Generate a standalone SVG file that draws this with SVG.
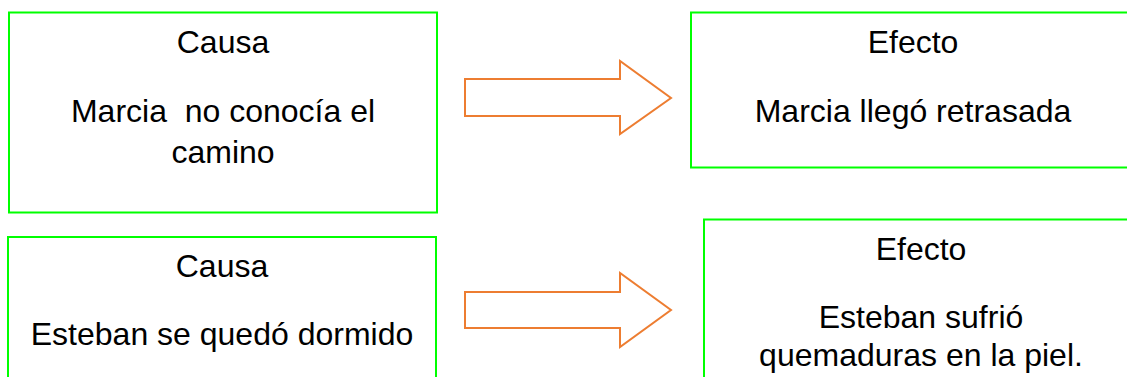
<svg xmlns="http://www.w3.org/2000/svg" width="1127" height="377" viewBox="0 0 1127 377" xml:space="preserve">
<style>
.box{fill:#ffffff;stroke:#00ff00;stroke-width:2}
.arrow{fill:#ffffff;stroke:#ed7d31;stroke-width:2;stroke-linejoin:miter}
text{font-family:"Liberation Sans",Arial,sans-serif;font-size:32px;fill:#000000;text-anchor:middle;white-space:pre}
</style>
<rect width="1127" height="377" fill="#ffffff"/>
<g id="causa1">
<rect class="box" x="9" y="12.5" width="428" height="200"/>
<text x="223" y="53">Causa</text>
<text x="223" y="122">Marcia  no conocía el</text>
<text x="223" y="163">camino</text>
</g>
<g id="efecto1">
<rect class="box" x="691" y="12.5" width="444" height="155"/>
<text x="913" y="53">Efecto</text>
<text x="913" y="122">Marcia llegó retrasada</text>
</g>
<g id="causa2">
<rect class="box" x="8" y="237" width="428" height="160"/>
<text x="222" y="277">Causa</text>
<text x="222" y="345">Esteban se quedó dormido</text>
</g>
<g id="efecto2">
<rect class="box" x="704" y="219.5" width="434" height="180"/>
<text x="921" y="260">Efecto</text>
<text x="921" y="328">Esteban sufrió</text>
<text x="921" y="366">quemaduras en la piel.</text>
</g>
<g id="connectors">
<path class="arrow" d="M465,79 L620,79 L620,61 L671,98 L620,134 L620,116 L465,116 Z"/>
<path class="arrow" d="M465,292 L620,292 L620,273 L671,310 L620,347 L620,328 L465,328 Z"/>
</g>
</svg>
